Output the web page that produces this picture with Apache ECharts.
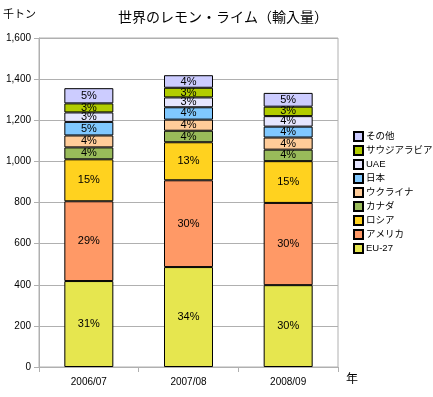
<!DOCTYPE html>
<html><head><meta charset="utf-8">
<script src="https://cdn.jsdelivr.net/npm/echarts@6/dist/echarts.min.js"></script>
<style>html,body{margin:0;padding:0;background:#fff}#c{width:433px;height:397px}</style>
</head><body><div id="c"></div>
<script>
const categories = ['2006/07', '2007/08', '2008/09'];
const seriesNames = ['EU-27', 'アメリカ', 'ロシア', 'カナダ', 'ウクライナ', '日本', 'UAE', 'サウジアラビア', 'その他'];
const eu27 = [418, 486, 398];
const america = [388, 422, 400];
const russia = [204, 185, 203];
const canada = [58, 56, 56];
const ukraine = [58, 54, 59];
const japan = [66, 60, 53];
const uae = [46, 48, 51];
const saudi = [44, 47, 46];
const other = [74, 61, 67];
const yTicks = [0, 200, 400, 600, 800, 1000, 1200, 1400, 1600];
const colors = ['#E6E64F', '#FF9966', '#FFD21F', '#99BB5A', '#FFCC99', '#80C8FF', '#E6E6FF', '#B2CC00', '#CCCCFF'];

const allData = [eu27, america, russia, canada, ukraine, japan, uae, saudi, other];
const totals = categories.map((_, i) => allData.reduce((s, a) => s + a[i], 0));
const font = "'Liberation Sans','Noto Sans CJK JP',sans-serif";

const chart = echarts.init(document.getElementById('c'));
chart.setOption({
  animation: false,
  textStyle: { fontFamily: font },
  title: {
    text: '世界のレモン・ライム（輸入量）', left: 218, top: 6, textAlign: 'center',
    textStyle: { fontSize: 14, fontWeight: 'normal', color: '#000', fontFamily: font }
  },
  graphic: [
    { type: 'text', left: 3, top: 9, style: { text: '千トン', fontSize: 11, fill: '#000', fontFamily: font } },
    { type: 'text', left: 346, top: 374, style: { text: '年', fontSize: 12, fill: '#000', fontFamily: font } }
  ],
  legend: {
    orient: 'vertical', left: 348, top: 126, itemWidth: 9, itemHeight: 9, itemGap: 3,
    data: seriesNames.slice().reverse(),
    textStyle: { fontSize: 9.5, lineHeight: 9, color: '#000', fontFamily: font, padding: [0, 0, 0, -2] },
    icon: 'rect'
  },
  grid: { left: 39, right: 95, top: 38, bottom: 30, show: true, borderColor: '#b0b0b0', borderWidth: 1 },
  xAxis: {
    type: 'category', data: categories,
    axisLine: { lineStyle: { color: '#b0b0b0' } },
    axisTick: { show: true, length: 5, lineStyle: { color: '#b0b0b0' } },
    axisLabel: { color: '#000', fontSize: 10, margin: 10, fontFamily: font }
  },
  yAxis: {
    type: 'value', min: yTicks[0], max: yTicks[yTicks.length - 1], interval: 200,
    axisLine: { show: true, lineStyle: { color: '#b0b0b0' } },
    axisTick: { show: true, length: 5, lineStyle: { color: '#b0b0b0' } },
    splitLine: { lineStyle: { color: '#b0b0b0' } },
    axisLabel: { color: '#000', fontSize: 10, margin: 8, fontFamily: font,
      formatter: v => v.toLocaleString('en-US') }
  },
  series: seriesNames.map((name, k) => ({
    name, type: 'bar', stack: 'a', barWidth: 49, data: allData[k],
    itemStyle: { color: colors[k], borderColor: '#000', borderWidth: 1 },
    label: {
      show: true, position: 'inside', color: '#000', fontSize: 11, fontFamily: font,
      formatter: p => Math.round(p.value / totals[p.dataIndex] * 100) + '%'
    }
  }))
});
</script></body></html>
